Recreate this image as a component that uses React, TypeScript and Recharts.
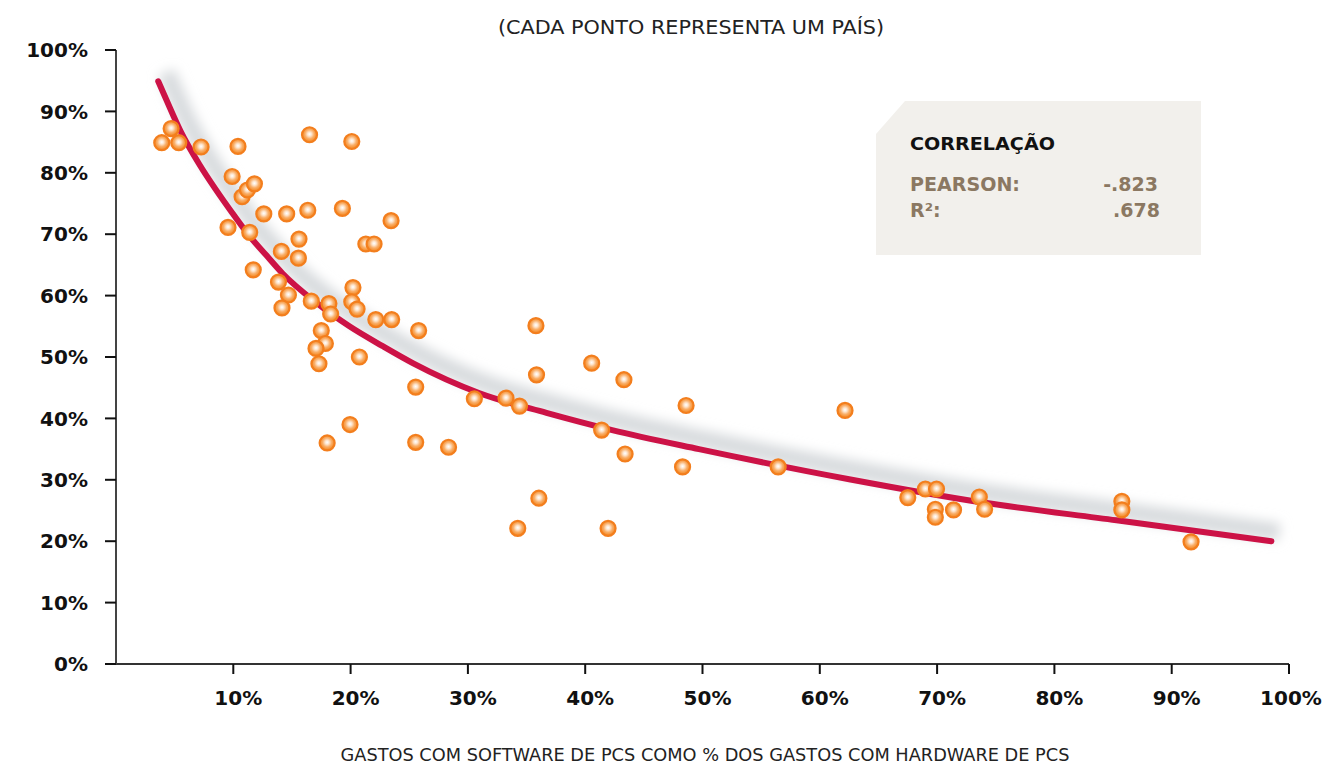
import { ComposedChart, Scatter, Line, XAxis, YAxis } from "recharts";

// one point per country: software spend as % of hardware spend (x) vs y value
const countryX = [
  3.9, 4.7, 5.35, 7.25, 10.4, 16.5, 20.1, 9.9, 10.75, 11.2, 11.8, 12.6, 14.55, 16.35, 19.3, 23.45,
  9.55, 11.4, 14.1, 15.6, 15.55, 21.3, 22.0, 11.7, 13.85, 14.7, 14.15, 16.65, 18.15, 18.3, 20.2,
  20.1, 20.55, 22.15, 23.5, 25.8, 17.5, 17.85, 17.05, 17.3, 20.75, 25.55, 18.0, 19.95, 25.55, 28.35,
  30.55, 33.25, 34.4, 35.8, 35.85, 36.05, 34.25, 40.55, 43.3, 41.4, 43.4, 41.95, 48.6, 48.3, 56.45,
  62.15, 67.5, 69.0, 69.95, 69.85, 69.85, 71.4, 73.6, 74.05, 85.75, 85.75, 91.65,
];
const countryY = [
  84.9, 87.2, 84.9, 84.2, 84.3, 86.2, 85.1, 79.4, 76.1, 77.2, 78.2, 73.3, 73.3, 73.9, 74.2, 72.2,
  71.1, 70.3, 67.2, 69.2, 66.1, 68.4, 68.4, 64.2, 62.2, 60.1, 58.0, 59.1, 58.7, 57.0, 61.3,
  59.0, 57.8, 56.1, 56.1, 54.3, 54.3, 52.2, 51.4, 48.9, 50.0, 45.1, 36.0, 39.0, 36.1, 35.3,
  43.2, 43.3, 42.0, 55.1, 47.1, 27.0, 22.1, 49.0, 46.3, 38.1, 34.2, 22.1, 42.1, 32.1, 32.1,
  41.3, 27.1, 28.5, 28.5, 25.2, 23.9, 25.1, 27.2, 25.2, 26.5, 25.1, 19.9,
];

// trend curve
const trendX = [3.6, 4.2, 5.5, 7.1, 8.5, 9.9, 11.3, 12.8, 14.2, 17.1, 19.9, 22.7, 25.3, 31, 36.7, 42.3, 49.7, 62.5, 73.9, 85.3, 98.5];
const trendY = [94.9, 92.3, 86.8, 81.4, 77.3, 73.5, 69.9, 66.6, 63.6, 58.8, 55, 51.8, 49, 44.1, 40.9, 38.1, 35, 30.1, 26.3, 23.4, 20];

const xTicks = [10, 20, 30, 40, 50, 60, 70, 80, 90, 100];
const yTicks = [0, 10, 20, 30, 40, 50, 60, 70, 80, 90, 100];

const points = countryX.map((x, i) => ({ x, y: countryY[i] }));
const trend = trendX.map((x, i) => ({ x, y: trendY[i] }));

const tickFont = "'DejaVu Sans', sans-serif";
const narrowFont = "'Liberation Sans Narrow', 'DejaVu Sans Condensed', sans-serif";

function XTick({ x, y, payload }: any) {
  // labels sit a few px right of their tick; last one kept inside the page
  const shift = payload.value === 100 ? 2 : 5;
  return (
    <text x={x + shift} y={y} dy="0.71em" textAnchor="middle" fill="#111" fontFamily={tickFont} fontWeight={700} fontSize={20}>
      {payload.value}%
    </text>
  );
}

function YTick({ x, y, payload }: any) {
  return (
    <text x={x} y={y} dy="0.355em" textAnchor="end" fill="#111" fontFamily={tickFont} fontWeight={700} fontSize={20}>
      {payload.value}%
    </text>
  );
}

function Ball({ cx, cy }: any) {
  return <circle cx={cx} cy={cy} r={7.5} fill="url(#ball)" stroke="#f37e1d" strokeWidth={2.2} />;
}

export default function App() {
  return (
    <div style={{ position: "absolute", left: 0, top: 0, width: 1323, height: 765, background: "#fff" }}>
      <svg width={0} height={0} style={{ position: "absolute" }}>
        <defs>
          <radialGradient id="ball" cx="50%" cy="46%" r="55%">
            <stop offset="0%" stopColor="#ffffff" />
            <stop offset="25%" stopColor="#fde4cc" />
            <stop offset="55%" stopColor="#f9ae68" />
            <stop offset="85%" stopColor="#f5902f" />
            <stop offset="100%" stopColor="#f28424" />
          </radialGradient>
          <filter id="glow" x="-10%" y="-10%" width="120%" height="120%">
            <feOffset dx="8" dy="-9" />
            <feGaussianBlur stdDeviation="6" />
          </filter>
        </defs>
      </svg>
      <ComposedChart width={1323} height={765} margin={{ top: 50, right: 34, bottom: 0, left: 0 }}>
        <XAxis
          type="number"
          dataKey="x"
          domain={[0, 100]}
          ticks={xTicks}
          height={101}
          tickSize={10}
          tickMargin={17}
          tick={<XTick />}
          stroke="#333"
          strokeWidth={2}
          tickLine={{ stroke: "#111", strokeWidth: 2 }}
        />
        <YAxis
          type="number"
          dataKey="y"
          domain={[0, 100]}
          ticks={yTicks}
          width={116}
          tickSize={11}
          tickMargin={17}
          tick={<YTick />}
          stroke="#444"
          strokeWidth={2}
          tickLine={{ stroke: "#111", strokeWidth: 2 }}
        />
        <Line
          data={trend}
          dataKey="y"
          type="monotone"
          stroke="#d8dbde"
          strokeWidth={18}
          filter="url(#glow)"
          dot={false}
          activeDot={false}
          isAnimationActive={false}
        />
        <Line
          data={trend}
          dataKey="y"
          type="monotone"
          stroke="#cc1246"
          strokeWidth={6}
          strokeLinecap="round"
          dot={false}
          activeDot={false}
          isAnimationActive={false}
        />
        <Scatter data={points} shape={<Ball />} isAnimationActive={false} />
      </ComposedChart>
      <svg width={1323} height={765} style={{ position: "absolute", left: 0, top: 0, pointerEvents: "none" }}>
        <text x={691} y={34} textAnchor="middle" fontFamily={narrowFont} fontSize={20} fill="#222" textLength={386} lengthAdjust="spacingAndGlyphs">
          (CADA PONTO REPRESENTA UM PAÍS)
        </text>
        <text x={705} y={761} textAnchor="middle" fontFamily={narrowFont} fontSize={18} fill="#222" textLength={729} lengthAdjust="spacingAndGlyphs">
          GASTOS COM SOFTWARE DE PCS COMO % DOS GASTOS COM HARDWARE DE PCS
        </text>
        <polygon points="905,101 1201,101 1201,255 876,255 876,134" fill="#f2f0ec" />
        <text x={910} y={150} fontFamily={tickFont} fontWeight={700} fontSize={18} fill="#111" textLength={145} lengthAdjust="spacingAndGlyphs">
          CORRELAÇÃO
        </text>
        <text x={910} y={191} fontFamily={tickFont} fontWeight={700} fontSize={19} fill="#8b7862" textLength={110} lengthAdjust="spacingAndGlyphs">
          PEARSON:
        </text>
        <text x={1158} y={191} textAnchor="end" fontFamily={tickFont} fontWeight={700} fontSize={19} fill="#8b7862">
          -.823
        </text>
        <text x={910} y={217} fontFamily={tickFont} fontWeight={700} fontSize={19} fill="#8b7862">
          R²:
        </text>
        <text x={1160} y={217} textAnchor="end" fontFamily={tickFont} fontWeight={700} fontSize={19} fill="#8b7862">
          .678
        </text>
      </svg>
    </div>
  );
}
